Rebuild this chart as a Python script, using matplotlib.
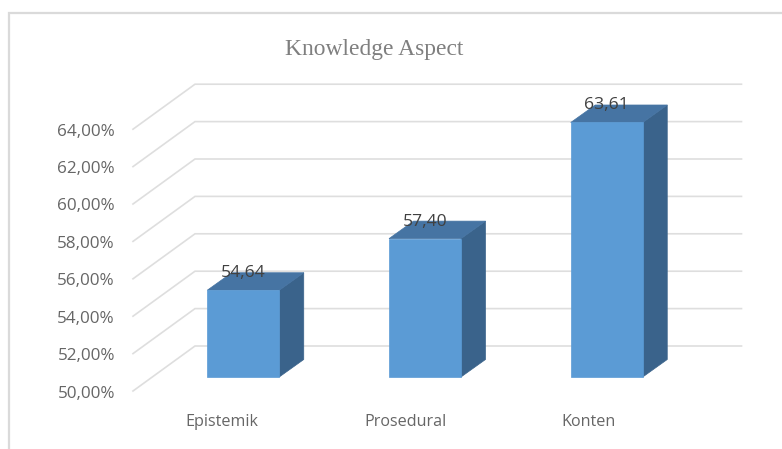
import matplotlib
matplotlib.use("Agg")
import matplotlib.pyplot as plt
from matplotlib.patches import Polygon, Rectangle

categories = ["Epistemik", "Prosedural", "Konten"]
values = [54.64, 57.40, 63.61]
value_labels = ["54,64", "57,40", "63,61"]
grid_values = [50, 52, 54, 56, 58, 60, 62, 64]
grid_labels = ["50,00%", "52,00%", "54,00%", "56,00%", "58,00%", "60,00%", "62,00%", "64,00%"]
title = "Knowledge Aspect"

W, H = 782, 449
PX_X = 181.75
PX_Y = 18.7
X0 = 243.25
Y50 = 377.0

fig = plt.figure(figsize=(W / 100, H / 100), dpi=100, facecolor="white")
ax = fig.add_axes([0, 0, 1, 1])
ax.set_xlim((0 - X0) / PX_X, (W - X0) / PX_X)
ax.set_ylim(50 - (H - Y50) / PX_Y, 50 + Y50 / PX_Y)
ax.axis("off")

def dx(p):
    return p / PX_X

def dy(p):
    return p / PX_Y

# chart frame
ax.add_patch(Rectangle((dx(9) - X0 / PX_X, ax.get_ylim()[0] - 1), dx(W), dy(H - 13) + 1,
                       fill=False, ec="#dadada", lw=1.6, zorder=1))

# wall and floor gridlines
front_x = dx(133 - X0)
back_x = dx(195 - X0)
end_x = dx(741.5 - X0)
front_dy = dy(-14)
back_dy = dy(31)
for v, lab in zip(grid_values, grid_labels):
    ax.plot([front_x, back_x, end_x], [v + front_dy, v + back_dy, v + back_dy],
            color="#dedede", lw=1.2, zorder=2, solid_joinstyle="miter")
    ax.text(dx(115 - X0), v + dy(-16.5), lab, ha="right", va="center",
            fontsize=12.3, color="#666666", family="Open Sans", zorder=6)

# bars
half = dx(36)
depth_x = dx(24.5)
depth_y = dy(17.5)
label_shift = [-21, -20, -18]
for i, (v, cat, lab) in enumerate(zip(values, categories, value_labels)):
    l, r = i - half, i + half
    ax.add_patch(Polygon([(r, 50), (r + depth_x, 50 + depth_y), (r + depth_x, v + depth_y), (r, v)],
                         closed=True, fc="#3a638b", ec="#3a638b", lw=0.5, zorder=3))
    ax.add_patch(Polygon([(l, v), (l + depth_x, v + depth_y), (r + depth_x, v + depth_y), (r, v)],
                         closed=True, fc="#4674a3", ec="#4674a3", lw=0.5, zorder=3))
    ax.add_patch(Polygon([(l, 50), (r, 50), (r, v), (l, v)],
                         closed=True, fc="#5b9bd5", ec="#5b9bd5", lw=0.5, zorder=4))
    ax.text(i, v + dy(17), lab, ha="center", va="center",
            fontsize=12.6, color="#404040", family="Open Sans", zorder=7)
    ax.text(i + dx(label_shift[i]), 50 + dy(-45.5), cat, ha="center", va="center",
            fontsize=11.6, color="#666666", family="Open Sans", zorder=6)

ax.text(dx(374.5 - X0), 50 + dy(Y50 - 49.5), title, ha="center", va="center",
        fontsize=16.9, color="#7f7f7f", family="Liberation Serif", zorder=6)

fig.savefig("out.png", dpi=100)
